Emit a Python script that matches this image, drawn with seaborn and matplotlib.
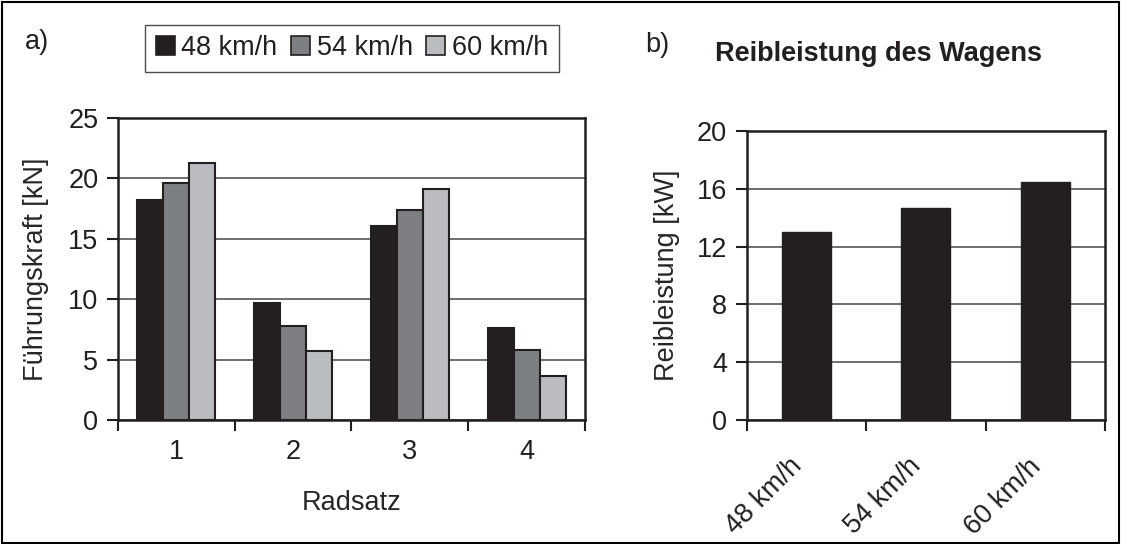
import matplotlib
matplotlib.use("Agg")
import matplotlib.pyplot as plt
import matplotlib.transforms as mtransforms
from matplotlib.patches import Patch
import seaborn as sns
import pandas as pd
import numpy as np

# data
radsatz = ["1", "2", "3", "4"]
speeds = ["48 km/h", "54 km/h", "60 km/h"]
kraft_48 = [18.2, 9.7, 16.05, 7.65]
kraft_54 = [19.6, 7.8, 17.4, 5.8]
kraft_60 = [21.25, 5.7, 19.1, 3.65]
reib = [13.0, 14.65, 16.45]

colors = ["#231f20", "#7e7f83", "#bbbcc0"]
FS = 19.5

sns.set_style("white")
plt.rcParams["font.family"] = ["Liberation Sans", "DejaVu Sans"]
plt.rcParams["font.size"] = FS
plt.rcParams["text.color"] = "#231f20"

df = pd.DataFrame({
    "Radsatz": radsatz * 3,
    "Kraft": kraft_48 + kraft_54 + kraft_60,
    "v": [s for s in speeds for _ in radsatz],
})
df2 = pd.DataFrame({"v": speeds, "P": reib})

fig = plt.figure(figsize=(11.21, 5.44), dpi=100)
ax1 = fig.add_axes([0.105, 0.228, 0.417, 0.555])
ax2 = fig.add_axes([0.666, 0.228, 0.320, 0.531])

# frame around whole figure
fig.patches.append(plt.Rectangle((0.002, 0.002), 0.996, 0.994, transform=fig.transFigure,
                                 fill=False, edgecolor="black", linewidth=1.5))

sns.barplot(data=df, x="Radsatz", y="Kraft", hue="v", palette=colors, width=0.67,
            gap=0, edgecolor="#231f20", linewidth=1.5, saturation=1, ax=ax1, legend=False)
sns.barplot(data=df2, x="v", y="P", color=colors[0], width=0.41, saturation=1,
            edgecolor="#231f20", linewidth=1, ax=ax2)

for ax, top, step, ncat in [(ax1, 25, 5, 4), (ax2, 20, 4, 3)]:
    ax.set_ylim(0, top)
    ax.set_yticks(np.arange(0, top + 1, step))
    ax.set_xlim(-0.5, ncat - 0.5)
    ax.set_xticks(np.arange(ncat + 1) - 0.5)
    ax.set_xticks(np.arange(ncat), minor=True)
    ax.yaxis.grid(True, color="#555555", linewidth=1.2)
    ax.set_axisbelow(True)
    for s in ax.spines.values():
        s.set_visible(True)
        s.set_color("#231f20")
        s.set_linewidth(1.8)
    ax.tick_params(axis="y", direction="out", length=8, width=1.5, left=True,
                   labelsize=FS, pad=6, colors="#231f20")
    ax.tick_params(axis="x", which="major", direction="out", length=8, width=1.5,
                   bottom=True, labelbottom=False, color="#231f20")
    ax.tick_params(axis="x", which="minor", length=0, labelsize=FS, labelcolor="#231f20")

ax1.set_xticklabels(radsatz, minor=True)
ax1.tick_params(axis="x", which="minor", pad=14)
ax1.set_xlabel("Radsatz", fontsize=FS, labelpad=18)
ax1.set_ylabel("Führungskraft [kN]", fontsize=FS, labelpad=14)

ax2.set_xticklabels(speeds, minor=True, rotation=45, ha="right", rotation_mode="anchor")
ax2.tick_params(axis="x", which="minor", pad=24)
shift = mtransforms.ScaledTranslation(-18 / 100, 0, fig.dpi_scale_trans)
for lab in ax2.get_xticklabels(minor=True):
    lab.set_transform(lab.get_transform() + shift)
ax2.set_xlabel("")
ax2.set_ylabel("Reibleistung [kW]", fontsize=FS, labelpad=12)

# legend
handles = [Patch(facecolor=c, edgecolor="#231f20", linewidth=1.2) for c in colors]
fig.legend(handles, speeds, loc="center", bbox_to_anchor=(0.314, 0.911), ncol=3,
           fontsize=FS, frameon=True, fancybox=False, edgecolor="#231f20",
           handlelength=0.7, handleheight=0.7, handletextpad=0.25, columnspacing=0.5,
           borderpad=0.4)

fig.text(0.022, 0.922, "a)", fontsize=FS, va="center")
fig.text(0.576, 0.918, "b)", fontsize=FS, va="center")
fig.text(0.638, 0.9, "Reibleistung des Wagens", fontsize=FS, fontweight="bold", va="center")

fig.savefig("out.png", dpi=100)
